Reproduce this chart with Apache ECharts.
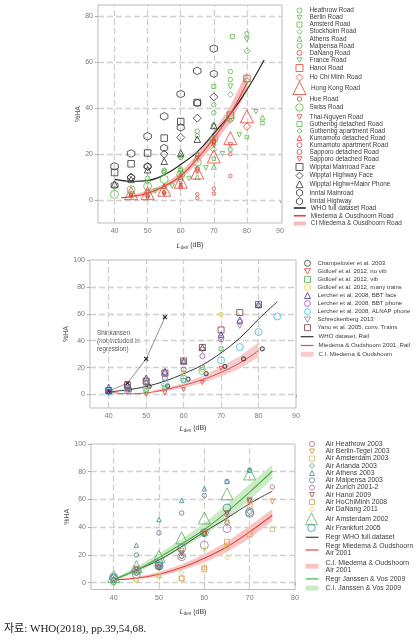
<!DOCTYPE html>
<html><head><meta charset="utf-8">
<script src="https://cdn.jsdelivr.net/npm/echarts@6/dist/echarts.min.js"></script>
<style>html,body{margin:0;padding:0;background:#fff;}#c{width:419px;height:640px;}</style>
</head><body><div id="c"></div>
<script>
// ---------------- Panel 1: road traffic ----------------
const roadHeathrow = [[50,9.5],[55,13],[60,18.5],[65,30],[70,41.5],[75,56],[80,72.5]];
const roadBerlin = [[70,32],[75,49.5],[80,70]];
const roadAmsterd = [[70,49.5],[75.6,71.2]];
const roadStockholm = [[70,22],[75,46],[80,65]];
const roadAthens = [[60,19.5],[65,10],[70,14.5],[84.7,36]];
const roadMalpensa = [[55,12.5],[60,13.5],[65,28],[70,38],[75,52.5],[80,52]];
const roadDaNang = [[45,2],[50,1.5],[55,3],[60,5.5]];
const roadFrance = [[52.3,3.9],[57.4,6.1],[62.5,9.4],[67.6,14],[72.6,20.2],[77.7,28.4],[82.7,38.5]];
const roadHanoi = [[75,37],[80,53]];
const roadHoChiMinh = [[80,32]];
const roadHongKong = [[45,3],[50,3],[55,4.5],[60,8],[65,12],[70,19],[75,27],[80,36.5]];
const roadHue = [[65,2.5],[70,5],[75,10.5]];
const roadSwiss = [[40,2.5],[45,4.5],[50,6],[55,9],[60,11],[65,16.5],[70,26.5],[75,36]];
const roadThaiNguyen = [[60,8],[65,13],[70,25],[75,24]];
const roadGothDet = [[55,5.5],[60,13],[65,20],[70,18],[75,22],[80,27.5],[84.7,33.5]];
const roadGothApt = [[45,3],[50,8],[55,12],[60,12],[65,14],[70,24],[75,34.5]];
const roadKumaDet = [[45,3],[50,4],[55,6],[60,11],[65,20],[70,27]];
const roadKumaApt = [[45,1.5],[50,2],[55,3.5],[60,6],[65,12.5],[70,26]];
const roadSappDet = [[65,0.8],[70,2.8],[75,20]];
const roadSappDet2 = [[50,1],[55,2.5],[60,6.5],[65,18],[70,24]];
const roadWippMain = [[40,12],[45,15.8],[50,20.5],[55,27],[60,34.2],[65,42.5]];
const roadWippHigh = [[45,10],[50,14.5],[55,20],[60,27.3],[65,35.7],[70,45]];
const roadWippPhone = [[40,7],[45,9],[50,13.2],[55,16.9],[60,20.5],[65,26.5],[70,32.5]];
const roadInnMain = [[40,6.4],[45,9.7],[50,14.7],[55,22.7],[60,31.6],[65,42.3],[70,55]];
const roadInnHigh = [[40,14.7],[45,20.3],[50,27.8],[55,36.5],[60,46.2],[65,56.3],[70,66]];
const roadWhoX = [40,45,50,55,60,65,70,75,80,85.2];
const roadWhoY = [9,8.2,8.5,11,15.5,21,29,37.5,48,61];
const roadMiedX = [42,45,50,55,60,65,70,75,80];
const roadMiedY = [1,1.5,3,6,10.5,18,27,37.5,51];
const roadCiX = [45,50,55,60,65,70,75,80];
const roadCiLow = [1,2,5,9,16,24,34,47.5];
const roadCiHigh = [2,4,7,12,20,30,41,56];
const roadXTicks = [40,50,60,70,80,90];
const roadYTicks = [0,20,40,60,80];

// ---------------- Panel 2: railway ----------------
const railChampelovier = [[40,2.2],[45.6,3.7],[50.8,6],[55.7,6.2],[61.2,11.4],[66,15.6],[71,21],[76,26.5],[81,34]];
const railGidNoVib = [[45,2],[50,0.3],[55,1.2],[60,3.7],[65,8.9],[70,19.5]];
const railGidVib = [[45,4],[50,3],[55,5],[60,10.5],[65,20],[70,34]];
const railGidMany = [[50,3.5],[55,7],[60,16],[65,18.5],[70,59.5]];
const railLercherFace = [[40,5.4],[45,7.4],[50,12.3],[55,17.3],[60,24.8],[65,35],[70,44.5],[75,55.5],[80,66.8]];
const railLercherPhone = [[40,2],[45,4.8],[50,8.5],[55,12.3],[60,18.5],[65,28.5],[70,41],[75,54]];
const railAlnap = [[40,2],[45,3],[50,5],[55,8.2],[60,11.7],[65,17.5],[70,25.5],[75,35.3],[80,46.5],[85,58]];
const railSchreck = [[45,5],[50,9],[55,15],[60,24],[65,33],[70,42],[75,51],[80,65.5]];
const railYano = [[40,3],[45,7],[50,10],[55,16],[60,25],[65,35],[70,48],[75,61],[80,67]];
const railShinkansen = [[40,2.5],[45,8.5],[50,26.5],[55,57.5]];
const railWhoX = [40,45,50,55,60,65,70,75,80,85];
const railWhoY = [2,3.5,6,10,15.5,22,31,42,56,69];
const railMiedX = [40,45,50,55,60,65,70,75,80];
const railMiedY = [1.8,0.6,1.2,3.7,6.9,11.1,16.5,23.5,32.6];
const railCiX = [52,55,60,65,70,75,80];
const railCiLow = [1.5,2.5,4.9,8.5,13.6,19.3,27.9];
const railCiHigh = [3.2,4.9,8.6,13.8,21,28.4,38.8];
const railXTicks = [40,50,60,70,80,90];
const railYTicks = [0,20,40,60,80,100];

// ---------------- Panel 3: aircraft ----------------
const airHeathrow = [[40,4],[45,8],[50,11],[55,19],[60,35],[65,49],[70,59],[75,69]];
const airBerlin = [[45,9],[50,12],[55,23],[60,36],[65,43.3],[70,58],[75,58.6]];
const airAmsterdam03 = [[40,0],[45,2],[50,5],[55,3],[60,11],[65,26],[75,38.5]];
const airArlanda = [[40,0],[45,7],[50,11],[55,19],[60,35],[65,43],[70,51]];
const airAthens = [[40,3],[45,27],[50,45.5],[55,59.3],[60,67.7],[65,73],[70,81.3]];
const airMalpensa = [[40,2],[45,19.9],[50,35.9],[55,50.2],[60,62.9],[65,73],[70,81]];
const airZurich = [[40,4],[45,6],[50,12],[55,18.7],[60,27],[65,39],[70,51]];
const airHanoi = [[45,10],[50,11],[55,21],[60,35],[65,50],[70,59.3]];
const airHoChiMinh = [[55,3],[60,9.6],[65,29.5],[70,34.7],[70,55.7]];
const airDaNang = [[40,1],[45,2],[50,4.2],[55,7.2],[60,24.6],[65,18]];
const airAmsterdam02 = [[40,4.3],[45,11.5],[50,19],[55,32.3],[60,46.6],[65,64],[70,78.4]];
const airFrankfurt = [[40,3],[45,8],[50,12],[50,14],[55,24.6],[60,36],[65,53.8],[70,50]];
const airX = [40,45,50,55,60,65,70,75];
const airWhoY = [2,9,16.3,26,36.6,46.5,57,66];
const airMiedY = [2,3.1,6,10.8,17.5,25.8,36.6,48.6];
const airMiedLow = [1.5,2.3,4.5,8.7,14.5,22,32,44.5];
const airMiedHigh = [2.5,4,7.5,13,20.5,29.5,41,53];
const airJanY = [2,9,18,28,38.3,51,65.3,80.5];
const airJanLow = [1.5,7,15,24.5,34,45.5,59.5,75];
const airJanHigh = [3,11,21,31.5,43,56.5,71,85];
const airXTicks = [40,50,60,70,80];
const airYTicks = [0,20,40,60,80,100];

// ---------------- helpers ----------------
const FONT = 'Liberation Sans';
const SYM = {
  circle:'circle', rect:'rect', diamond:'diamond', triangle:'triangle',
  tridown:'path://M0,0L10,0L5,9Z',
  hex:'path://M5,0L9.33,2.5L9.33,7.5L5,10L0.67,7.5L0.67,2.5Z',
  cross:'path://M0,0L10,10M10,0L0,10'
};
function sc(name, data, sym, size, color, g, bw) {
  return {type:'scatter', name, data, symbol:SYM[sym], symbolSize:size, xAxisIndex:g, yAxisIndex:g, z:4,
    itemStyle:{color:'rgba(255,255,255,0)', borderColor:color, borderWidth:bw||1}};
}
function ln(name, xs, ys, color, g, w, extra) {
  return Object.assign({type:'line', name, data:xs.map((x,i)=>[x,ys[i]]), xAxisIndex:g, yAxisIndex:g,
    symbol:'none', smooth:0.4, z:3, lineStyle:{color, width:w||1.2}, itemStyle:{color}}, extra||{});
}
function band(name, xs, lo, hi, color, g) {
  return {type:'custom', name, xAxisIndex:g, yAxisIndex:g, z:2, silent:true, clip:true,
    data:xs.map((x,i)=>[x,lo[i],hi[i]]), encode:{x:0, y:[1,2]}, itemStyle:{color},
    renderItem:function(params, api){
      if (params.dataIndex !== 0) return null;
      const pts = [];
      for (let i = 0; i < xs.length; i++) pts.push(api.coord([xs[i], hi[i]]));
      for (let i = xs.length - 1; i >= 0; i--) pts.push(api.coord([xs[i], lo[i]]));
      return {type:'polygon', shape:{points:pts}, style:{fill:color}};
    }};
}
function gridLines(xs, ys) {
  return {silent:true, z:1, symbol:['none','none'], label:{show:false}, animation:false,
    lineStyle:{type:[6,3], color:'#d0d0d0', width:1.3},
    emphasis:{disabled:true},
    data:[...xs.map(v=>({xAxis:v})), ...ys.map(v=>({yAxis:v}))]};
}
function lg(names, o) {
  return {data:names, orient:'vertical', left:o.left, top:o.top, itemWidth:o.w, itemHeight:o.h, itemGap:o.gap,
    padding:0, selectedMode:false, itemStyle:{borderWidth:1}, lineStyle:{width:o.lw||1.2},
    textStyle:{fontSize:o.fs, color:'#3c3c3c', fontFamily:FONT, lineHeight:o.lh||7, padding:[0,0,0,o.pad||0]}};
}
const lineItem = n => ({name:n, itemStyle:{opacity:0}});
const rectItem = (n, c) => ({name:n, icon:'rect', itemStyle:{color:c, borderWidth:0}});
const nameRich = {
  i:{fontStyle:'italic', fontSize:7.5, color:'#444', fontFamily:FONT, lineHeight:9, verticalAlign:'middle'},
  s:{fontSize:4.5, color:'#444', fontFamily:FONT, lineHeight:5, verticalAlign:'bottom'},
  n:{fontSize:7, color:'#444', fontFamily:FONT, lineHeight:9, verticalAlign:'middle'}
};
function xAx(g, min, max, ticks, gap) {
  return {gridIndex:g, type:'value', min, max,
    axisLine:{show:false}, splitLine:{show:false},
    axisTick:{show:true, customValues:ticks, length:3, lineStyle:{color:'#aaa'}},
    axisLabel:{customValues:ticks, fontSize:7, color:'#777', fontFamily:FONT, margin:5},
    name:'{i|L}{s|den}{n| (dB)}', nameLocation:'middle', nameGap:gap, nameTextStyle:{rich:nameRich}};
}
function yAx(g, min, max, ticks, gap) {
  return {gridIndex:g, type:'value', min, max,
    axisLine:{show:false}, splitLine:{show:false},
    axisTick:{show:true, customValues:ticks, length:3, lineStyle:{color:'#aaa'}},
    axisLabel:{customValues:ticks, fontSize:7, color:'#777', fontFamily:FONT, margin:5},
    name:'%HA', nameLocation:'middle', nameRotate:90, nameGap:gap,
    nameTextStyle:{fontSize:7, color:'#555', fontFamily:FONT}};
}

// colours
const G1 = '#5cb84a', R1 = '#e2453b', K1 = '#333';

const series = [
  // panel 1
  band('CI Miedema & Ousdhoorn Road', roadCiX, roadCiLow, roadCiHigh, '#f6bcbc', 0),
  ln('WHO full dataset Road', roadWhoX, roadWhoY, '#2a2a2a', 0, 1.2, {markLine:gridLines([40,50,60,70,80],[0,20,40,60,80])}),
  ln('Miedema & Ousdhoorn Road', roadMiedX, roadMiedY, R1, 0, 1.1),
  sc('Heathrow Road', roadHeathrow, 'circle', 4.5, G1, 0),
  sc('Berlin Road', roadBerlin, 'tridown', 5, G1, 0),
  sc('Amsterd Road', roadAmsterd, 'rect', 4, G1, 0),
  sc('Stockholm Road', roadStockholm, 'diamond', 6, G1, 0),
  sc('Athens Road', roadAthens, 'triangle', 5, G1, 0),
  sc('Malpensa Road', roadMalpensa, 'circle', 4.5, G1, 0),
  sc('DaNang Road', roadDaNang, 'circle', 3.5, R1, 0),
  sc('France Road', roadFrance, 'tridown', 4.5, G1, 0),
  sc('Hanoi Road', roadHanoi, 'rect', 6.5, R1, 0),
  sc('Ho Chi Minh Road', roadHoChiMinh, 'diamond', 7.5, R1, 0),
  sc('Hong Kong Road', roadHongKong, 'triangle', 13, R1, 0),
  sc('Hue Road', roadHue, 'circle', 3.5, R1, 0),
  sc('Swiss Road', roadSwiss, 'circle', 8, G1, 0),
  sc('Thai-Nguyen Road', roadThaiNguyen, 'tridown', 4.5, R1, 0),
  sc('Gothenbg detached Road', roadGothDet, 'rect', 3.5, G1, 0),
  sc('Gothenbg apartment Road', roadGothApt, 'diamond', 5, G1, 0),
  sc('Kumamoto detached Road', roadKumaDet, 'triangle', 4, R1, 0),
  sc('Kumamoto apartment Road', roadKumaApt, 'circle', 3.5, R1, 0),
  sc('Sapporo detached Road', roadSappDet, 'circle', 3.5, R1, 0),
  sc('Sapporo detached Road\u200B', roadSappDet2, 'tridown', 3.5, R1, 0),
  sc('Wipptal Mainroad Face', roadWippMain, 'rect', 6.5, K1, 0),
  sc('Wipptal Highway Face', roadWippHigh, 'diamond', 8, K1, 0),
  sc('Wipptal Highw+Mainr Phone', roadWippPhone, 'triangle', 6.5, K1, 0),
  sc('Inntal Mainroad', roadInnMain, 'hex', 7, K1, 0),
  sc('Inntal Highway', roadInnHigh, 'hex', 7.5, K1, 0),
  // panel 2
  band('C.I. Miedema & Oudshoom', railCiX, railCiLow, railCiHigh, '#f8cccc', 1),
  ln('WHO dataset, Rail', railWhoX, railWhoY, '#333', 1, 1, {markLine:gridLines([40,50,60,70,80],[0,20,40,60,80])}),
  ln('Miedema & Oudshoom 2001, Rail', railMiedX, railMiedY, '#e3504a', 1, 1),
  {type:'line', name:'Shinkansen', data:railShinkansen, xAxisIndex:1, yAxisIndex:1, symbol:SYM.cross, symbolSize:4,
   z:3, lineStyle:{color:'#777', width:0.8}, itemStyle:{color:'#222', borderColor:'#222', borderWidth:1.2}},
  sc('Champelovier et al. 2003', railChampelovier, 'circle', 4, '#333', 1, 1.2),
  sc('Gidloef et al. 2012, no vib', railGidNoVib, 'tridown', 4, '#e0413a', 1),
  sc('Gidloef et al. 2012, vib', railGidVib, 'rect', 4, '#55a84a', 1),
  sc('Gidloef et al. 2012, many trains', railGidMany, 'circle', 4.5, '#e6d030', 1),
  sc('Lercher et al. 2008, BBT face', railLercherFace, 'triangle', 6, '#3a3aa8', 1),
  sc('Lercher et al. 2008, BBT phone', railLercherPhone, 'circle', 5, '#a24ab8', 1),
  sc('Lercher et al. 2008, ALNAP phone', railAlnap, 'circle', 7, '#38c0d8', 1),
  sc('Schreckenberg 2013', railSchreck, 'tridown', 5, '#888', 1),
  sc('Yano et al. 2005, conv. Trains', railYano, 'rect', 6, '#7a3a3a', 1),
  // panel 3
  band('C.I. Miedema & Oudshoorn\nAir 2001', airX, airMiedLow, airMiedHigh, '#f8c4c4', 2),
  band('C.I. Janssen & Vos 2009', airX, airJanLow, airJanHigh, '#cde9c6', 2),
  ln('Regr WHO full dataset', airX, airWhoY, '#444', 2, 1, {markLine:gridLines([40,50,60,70],[0,20,40,60,80])}),
  ln('Regr Miedema & Oudshoorn\nAir 2001', airX, airMiedY, '#e2453b', 2, 1.1),
  ln('Regr Janssen & Vos 2009', airX, airJanY, '#46b446', 2, 1.1),
  sc('Air Heathrow 2003', airHeathrow, 'circle', 4.5, '#b07078', 2),
  sc('Air Berlin-Tegel 2003', airBerlin, 'tridown', 5, '#e08a2a', 2),
  sc('Air Amsterdam 2003', airAmsterdam03, 'rect', 4.5, '#c8c060', 2),
  sc('Air Arlanda 2003', airArlanda, 'diamond', 5.5, '#4a9a5a', 2),
  sc('Air Athens 2003', airAthens, 'triangle', 4.5, '#3a8a9a', 2),
  sc('Air Malpensa 2003', airMalpensa, 'circle', 4.5, '#5a7a9a', 2),
  sc('Air Zurich 2001-2', airZurich, 'circle', 8, '#a070b8', 2),
  sc('Air Hanoi 2009', airHanoi, 'tridown', 5, '#9a4a3a', 2),
  sc('Air HoChiMinh 2008', airHoChiMinh, 'rect', 5, '#e89a4a', 2),
  sc('Air DaNang 2011', airDaNang, 'diamond', 4.5, '#d8d04a', 2),
  sc('Air Amsterdam 2002', airAmsterdam02, 'triangle', 12, '#5ab05a', 2),
  sc('Air Frankfurt 2005', airFrankfurt, 'circle', 8, '#3a90a8', 2)
];

const legends = [
  lg(['Heathrow Road','Berlin Road','Amsterd Road','Stockholm Road','Athens Road','Malpensa Road','DaNang Road','France Road'],
     {left:296.5, top:7, w:5, h:5, gap:0.07, fs:6.4, pad:2.5}),
  lg(['Hanoi Road','Ho Chi Minh Road'], {left:295.5, top:64, w:7, h:7, gap:1.5, fs:6.4, pad:1.5}),
  lg(['Hong Kong Road'], {left:292.5, top:81, w:13, h:13, gap:0, fs:6.4, pad:0}),
  lg(['Hue Road'], {left:296.75, top:95.5, w:4.5, h:4.5, gap:0, fs:6.4, pad:2.75}),
  lg(['Swiss Road'], {left:295.25, top:103.25, w:7.5, h:7.5, gap:0, fs:6.4, pad:1.25}),
  lg(['Thai-Nguyen Road','Gothenbg detached Road','Gothenbg apartment Road','Kumamoto detached Road','Kumamoto apartment Road','Sapporo detached Road','Sapporo detached Road\u200B'],
     {left:296.5, top:113.5, w:5, h:5, gap:0, fs:6.4, pad:2.5}),
  lg(['Wipptal Mainroad Face','Wipptal Highway Face','Wipptal Highw+Mainr Phone','Inntal Mainroad','Inntal Highway'],
     {left:295.5, top:163, w:7, h:7, gap:0.6, fs:6.4, pad:1.5}),
  lg([lineItem('WHO full dataset Road'), lineItem('Miedema & Ousdhoorn Road'), rectItem('CI Miedema & Ousdhoorn Road','#f6bcbc')],
     {left:293, top:204.5, w:12, h:4, gap:0.75, fs:6.4, lw:1.6, pad:0}),
  lg(['Champelovier et al. 2003','Gidloef et al. 2012, no vib','Gidloef et al. 2012, vib','Gidloef et al. 2012, many trains',
      'Lercher et al. 2008, BBT face','Lercher et al. 2008, BBT phone','Lercher et al. 2008, ALNAP phone','Schreckenberg 2013','Yano et al. 2005, conv. Trains'],
     {left:304, top:259.8, w:6, h:6, gap:1.05, fs:6.1, pad:2}),
  lg([lineItem('WHO dataset, Rail'), lineItem('Miedema & Oudshoom 2001, Rail'), rectItem('C.I. Miedema & Oudshoom','#f8cccc')],
     {left:300, top:333.2, w:13, h:5, gap:1.8, fs:6.1, pad:0}),
  lg(['Air Heathrow 2003','Air Berlin-Tegel 2003','Air Amsterdam 2003','Air Arlanda 2003','Air Athens 2003','Air Malpensa 2003',
      'Air Zurich 2001-2','Air Hanoi 2009','Air HoChiMinh 2008','Air DaNang 2011'],
     {left:309, top:440.5, w:5, h:5, gap:0.26, fs:6.9, pad:6}),
  lg(['Air Amsterdam 2002'], {left:305, top:512.3, w:12, h:12, gap:0, fs:6.9, pad:3}),
  lg(['Air Frankfurt 2005'], {left:307.25, top:523.5, w:7.5, h:7.5, gap:0, fs:6.9, pad:5.25}),
  lg([lineItem('Regr WHO full dataset'), lineItem('Regr Miedema & Oudshoorn\nAir 2001'),
      rectItem('C.I. Miedema & Oudshoorn\nAir 2001','#f8c4c4'),
      lineItem('Regr Janssen & Vos 2009'),
      rectItem('C.I. Janssen & Vos 2009','#cde9c6')],
     {left:305, top:533.8, w:13, h:5, gap:2.2, fs:6.9, pad:2})
];

const option = {
  animation:false,
  backgroundColor:'#fff',
  grid:[
    {left:98, top:5, width:184, height:218, show:true, borderColor:'#bbb', borderWidth:1, backgroundColor:'#fff'},
    {left:90, top:260, width:206, height:148, show:true, borderColor:'#bbb', borderWidth:1, backgroundColor:'#fff'},
    {left:91, top:444, width:204, height:145.5, show:true, borderColor:'#bbb', borderWidth:1, backgroundColor:'#fff'}
  ],
  xAxis:[xAx(0,35,90.6,roadXTicks,18), xAx(1,35,90,railXTicks,16), xAx(2,35,80,airXTicks,18)],
  yAxis:[yAx(0,-10,85,roadYTicks,15), yAx(1,-10,100,railYTicks,15), yAx(2,-5,100,airYTicks,13)],
  legend:legends,
  series,
  graphic:[
    {type:'text', left:97, top:329.5, style:{text:'Shinkansen\n(not included in\nregression)', fontSize:6.3, fontFamily:FONT, fill:'#555', lineHeight:8}},
    {type:'text', left:4, top:623.5, style:{text:'자료: WHO(2018), pp.39,54,68.', fontSize:11, fontFamily:'"Liberation Serif","Noto Sans CJK KR"', fill:'#222'}}
  ]
};
const chart = echarts.init(document.getElementById('c'), null, {renderer:'canvas'});
chart.setOption(option);
</script></body></html>
